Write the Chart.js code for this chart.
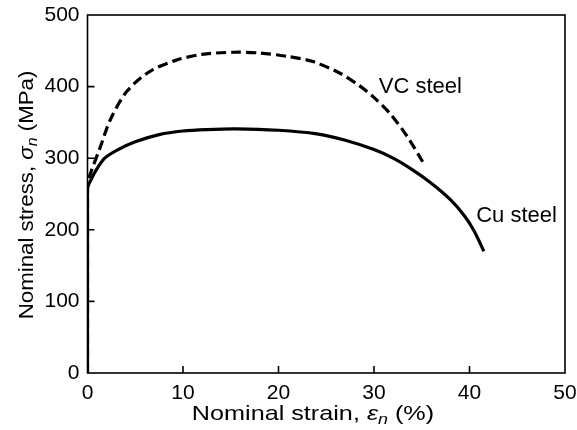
<!DOCTYPE html>
<html>
<head>
<meta charset="utf-8">
<script src="https://cdn.jsdelivr.net/npm/chart.js@4.4.1/dist/chart.umd.min.js"></script>
<style>
  html, body { margin: 0; padding: 0; background: #fff; }
  #wrap { width: 577px; height: 430px; }
</style>
</head>
<body>
<div id="wrap"><canvas id="chart" width="577" height="430" style="width:577px;height:430px"></canvas></div>
<script>
// Cu steel curve (strain %, stress MPa)
const cuStrain = [0, 0, 0.3, 0.8, 1.8, 3.2, 5, 7.5, 10, 12.5, 15.5, 20, 24, 27, 30, 32, 34, 36, 38, 39.5, 40.5, 41.5];
const cuStress = [0, 258, 268, 281, 300, 312, 323, 333, 338, 340, 341, 339, 334, 325, 312, 300, 284, 265, 242, 219, 198, 170];

// VC steel curve
const vcStrain = [0, 0, 0.4, 1.3, 2.4, 4.1, 6.5, 9.3, 12, 15.3, 18, 21, 23.6, 26.4, 28.5, 29.9, 31.7, 33.5, 35.1];
const vcStress = [0, 262, 282, 314, 354, 393, 421, 437, 445, 448, 447, 442, 435, 419, 401, 386, 362, 330, 295];

const xTicks = [0, 10, 20, 30, 40, 50];
const yTicks = [0, 100, 200, 300, 400, 500];
const seriesNames = ['Cu steel', 'VC steel'];

const FONT = '"Liberation Sans", Arial, Helvetica, sans-serif';

const toPoints = (xs, ys) => xs.map((x, i) => ({ x: x, y: ys[i] }));

// draw a run of text pieces centred on (0,0) baseline, in the current transform
function drawPieces(ctx, pieces) {
  let w = 0;
  pieces.forEach(p => { ctx.font = p.font; w += ctx.measureText(p.text).width; });
  let cx = -w / 2;
  pieces.forEach(p => {
    ctx.font = p.font;
    ctx.fillText(p.text, cx, p.dy || 0);
    cx += ctx.measureText(p.text).width;
  });
}

// keep the plot box where the reference has it
function noPad(s) {
  s.paddingLeft = 0; s.paddingRight = 0; s.paddingTop = 0; s.paddingBottom = 0;
}

const framePlugin = {
  id: 'frame',
  afterDraw(chart) {
    const ctx = chart.ctx;
    const a = chart.chartArea;
    const xs = chart.scales.x, ys = chart.scales.y;
    ctx.save();
    ctx.strokeStyle = '#000';
    ctx.lineWidth = 1.6;
    ctx.strokeRect(a.left, a.top, a.right - a.left, a.bottom - a.top);

    // inward tick marks on left and bottom
    const tl = 7;
    ctx.beginPath();
    yTicks.slice(1, -1).forEach(v => {
      const py = ys.getPixelForValue(v);
      ctx.moveTo(a.left, py); ctx.lineTo(a.left + tl, py);
    });
    xTicks.slice(1, -1).forEach(v => {
      const px = xs.getPixelForValue(v);
      ctx.moveTo(px, a.bottom); ctx.lineTo(px, a.bottom - tl);
    });
    ctx.stroke();

    ctx.fillStyle = '#000';
    ctx.textBaseline = 'alphabetic';
    ctx.textAlign = 'left';

    // x axis title
    ctx.save();
    ctx.translate(313, 420);
    ctx.scale(1.2, 1);
    drawPieces(ctx, [
      { text: 'Nominal strain, ', font: '21px ' + FONT },
      { text: 'ε', font: 'italic 21px ' + FONT },
      { text: 'n', font: 'italic 15px ' + FONT, dy: 4 },
      { text: ' (%)', font: '21px ' + FONT }
    ]);
    ctx.restore();

    // y axis title
    ctx.save();
    ctx.translate(33, 195);
    ctx.rotate(-Math.PI / 2);
    ctx.scale(1.06, 1);
    drawPieces(ctx, [
      { text: 'Nominal stress, ', font: '21px ' + FONT },
      { text: 'σ', font: 'italic 21px ' + FONT },
      { text: 'n', font: 'italic 15px ' + FONT, dy: 4 },
      { text: ' (MPa)', font: '21px ' + FONT }
    ]);
    ctx.restore();

    // curve labels
    ctx.font = '22px ' + FONT;
    ctx.fillText(seriesNames[1], xs.getPixelForValue(30.5), ys.getPixelForValue(391));
    ctx.fillText(seriesNames[0], xs.getPixelForValue(40.7), ys.getPixelForValue(211));
    ctx.restore();
  }
};

new Chart(document.getElementById('chart'), {
  type: 'scatter',
  data: {
    datasets: [
      {
        label: seriesNames[0],
        data: toPoints(cuStrain, cuStress),
        showLine: true,
        borderColor: '#000',
        borderWidth: 3.2,
        pointRadius: 0,
        tension: 0.3,
        fill: false
      },
      {
        label: seriesNames[1],
        data: toPoints(vcStrain, vcStress),
        showLine: true,
        borderColor: '#000',
        borderWidth: 3.2,
        borderDash: [10, 5],
        pointRadius: 0,
        tension: 0.3,
        fill: false
      }
    ]
  },
  options: {
    responsive: false,
    animation: false,
    layout: { autoPadding: false, padding: { left: 0, top: 15, right: 12, bottom: 0 } },
    plugins: { legend: { display: false }, tooltip: { enabled: false } },
    scales: {
      x: {
        type: 'linear',
        min: 0, max: 50,
        afterBuildTicks: s => { s.ticks = xTicks.map(v => ({ value: v })); },
        afterFit: s => { s.height = 57; noPad(s); },
        ticks: { color: '#000', font: { family: FONT, size: 21 }, padding: 8, maxRotation: 0 },
        grid: { display: false, drawTicks: false },
        border: { display: false }
      },
      y: {
        type: 'linear',
        min: 0, max: 500,
        afterBuildTicks: s => { s.ticks = yTicks.map(v => ({ value: v })); },
        afterFit: s => { s.width = 87.5; noPad(s); },
        ticks: { color: '#000', font: { family: FONT, size: 21 }, padding: 8 },
        grid: { display: false, drawTicks: false },
        border: { display: false }
      }
    }
  },
  plugins: [framePlugin]
});
</script>
</body>
</html>
